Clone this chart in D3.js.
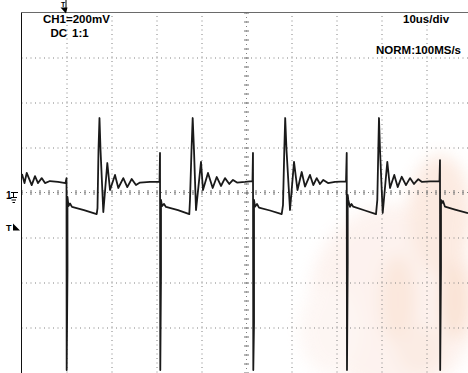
<!DOCTYPE html>
<html>
<head>
<meta charset="utf-8">
<script src="https://cdn.jsdelivr.net/npm/d3@7"></script>
<style>
html,body{margin:0;padding:0;background:#fff;}
svg{display:block;}
text{font-family:"Liberation Sans",Arial,sans-serif;}
</style>
</head>
<body>
<svg id="scope" width="468" height="373"></svg>
<script>
// ---- data (time in µs from left edge, voltage in mV) ----
const traceTime = [0.11,0.67,1.16,2.27,3.0,3.67,4.49,5.22,6.33,8.11,9.78,10.0,10.04,10.22,10.22,10.44,10.78,11.22,13.89,16.71,16.89,17.11,17.33,17.56,18.18,19.07,19.67,20.78,21.51,22.62,23.51,24.49,25.44,26.33,28.56,30.67,
  30.78,30.84,31.0,31.0,31.22,31.67,32.11,34.78,37.29,37.44,37.78,38.04,38.33,38.78,39.89,40.33,41.44,42.49,43.38,44.33,45.22,46.18,47.0,47.89,49.67,51.33,
  51.44,51.51,51.67,51.67,51.89,52.33,52.78,55.22,57.82,58.11,58.4,58.6,58.89,59.67,60.56,61.33,62.27,63.0,64.11,64.84,65.6,66.33,67.07,68.11,69.67,72.11,
  72.27,72.33,72.49,72.49,72.62,73.0,73.33,73.73,76.33,78.78,79.07,79.29,79.44,79.67,80.27,81.29,81.89,82.84,83.6,84.49,85.44,86.33,87.22,88.18,89.0,90.78,92.89,
  93.0,93.04,93.22,93.22,93.38,93.67,94.11,96.33,99.22];
const traceMv = [82,42,87,33,73,42,64,42,51,47,42,64,-789,-344,-20,-60,-49,-64,-78,-96,-69,189,331,189,-87,131,11,78,20,64,24,60,33,44,47,47,
  176,-789,-367,-33,-60,-51,-64,-78,-96,-33,189,331,189,-78,136,11,87,20,69,29,64,38,56,44,47,51,
  176,-789,-580,-33,-63,-51,-67,-80,-96,-56,189,331,189,-78,136,11,91,26,78,33,64,38,56,42,47,49,
  176,-789,-313,-11,-33,-64,-51,-63,-80,-96,-33,189,331,189,-91,136,20,78,24,70,33,64,38,59,47,49,51,
  144,-789,-336,-33,-48,-38,-63,-76,-92];

const timeDivUs = 10;          // 10us/div
const voltDivMv = 200;         // 200mV/div
const hDivs = 10, vDivs = 8;
const labelsTop = ["CH1=200mV", "DC", "1:1"];
const labelsRight = ["10us/div", "NORM:100MS/s"];

// ---- layout ----
const svg = d3.select("#scope");
const leftX = 21.5, topY = 12.5, divPx = 45;
const x = d3.scaleLinear().domain([0, hDivs*timeDivUs]).range([leftX, leftX + hDivs*divPx]);
const y = d3.scaleLinear().domain([-vDivs/2*voltDivMv, vDivs/2*voltDivMv]).range([topY + vDivs*divPx, topY]);

// faint watermark in the background
const defs = svg.append("defs");
defs.append("filter").attr("id","blur").append("feGaussianBlur").attr("stdDeviation", 8);
const wm = svg.append("g").attr("filter","url(#blur)").attr("opacity",0.45);
[[395,300,85,95,"#fbe4dc"],[440,215,32,60,"#f8d2bd"],[330,330,30,45,"#fcece6"],
 [398,300,18,45,"#f7ccb3"],[455,300,16,40,"#f5c4a6"],[420,350,25,25,"#f8d6c4"]].forEach(e=>{
  wm.append("ellipse").attr("cx",e[0]).attr("cy",e[1]).attr("rx",e[2]).attr("ry",e[3]).attr("fill",e[4]);
});

// grid (dotted)
const gridX = d3.axisBottom(x).tickValues(d3.range(1, hDivs).map(i => i*timeDivUs).filter(v => v !== 50))
  .tickSize(-(vDivs*divPx)).tickFormat("");
svg.append("g").attr("transform", `translate(0,${topY + vDivs*divPx})`).call(gridX)
  .call(g => g.select(".domain").remove())
  .selectAll("line").attr("stroke","#808080").attr("stroke-dasharray","1 3.5");

const gridY = d3.axisLeft(y).tickValues(d3.range(-3, 4).map(i => i*voltDivMv).filter(v => v !== 0))
  .tickSize(-(hDivs*divPx)).tickFormat("");
svg.append("g").attr("transform", `translate(${leftX},0)`).call(gridY)
  .call(g => g.select(".domain").remove())
  .selectAll("line").attr("stroke","#808080").attr("stroke-dasharray","1 3.5");

// centre lines (dotted) with minor ticks
svg.append("line").attr("x1", x(50)).attr("x2", x(50)).attr("y1", topY).attr("y2", topY + vDivs*divPx)
  .attr("stroke","#808080").attr("stroke-dasharray","1 3.5");
svg.append("line").attr("x1", leftX).attr("x2", leftX + hDivs*divPx).attr("y1", y(0)).attr("y2", y(0))
  .attr("stroke","#808080").attr("stroke-dasharray","1 3.5");
const minorX = d3.axisBottom(x).tickValues(d3.range(0, hDivs*timeDivUs + 1, timeDivUs/5)).tickSize(5).tickFormat("");
svg.append("g").attr("transform", `translate(0,${y(0) - 2.5})`).call(minorX)
  .call(g => g.select(".domain").remove())
  .selectAll("line").attr("stroke","#707070");
const minorY = d3.axisLeft(y).tickValues(d3.range(-vDivs/2*voltDivMv, vDivs/2*voltDivMv + 1, voltDivMv/5)).tickSize(5).tickFormat("");
svg.append("g").attr("transform", `translate(${x(50) + 2.5},0)`).call(minorY)
  .call(g => g.select(".domain").remove())
  .selectAll("line").attr("stroke","#707070");

// frame
svg.append("line").attr("x1", leftX).attr("x2", 468).attr("y1", topY).attr("y2", topY).attr("stroke","#6a6a6a");
svg.append("line").attr("x1", leftX).attr("x2", leftX).attr("y1", topY).attr("y2", 373).attr("stroke","#111");

// trace
const pts = traceTime.map((t,i) => [t, traceMv[i]]);
const line = d3.line().x(d => x(d[0])).y(d => y(d[1]));
svg.append("path").datum(pts).attr("d", line).attr("fill","none")
  .attr("stroke","#1a1a1a").attr("stroke-width",1.8).attr("stroke-linejoin","round");

// text labels
const tf = {"font-size":"11.5px","font-weight":"bold","fill":"#000"};
function txt(s, px, py){ const t = svg.append("text").attr("x",px).attr("y",py).text(s); Object.entries(tf).forEach(([k,v])=>t.attr(k,v)); return t; }
txt(labelsTop[0], 43, 23);
txt(labelsTop[1], 50.5, 37);
txt(labelsTop[2], 72, 37);
txt(labelsRight[0], 403, 23);
txt(labelsRight[1], 376, 53.5);

// trigger position marker (top)
svg.append("text").attr("x",61).attr("y",6.5).attr("font-size","7px").attr("font-weight","bold").text("T");
svg.append("line").attr("x1",66).attr("x2",66).attr("y1",0).attr("y2",8).attr("stroke","#000");
svg.append("path").attr("d","M60.5,7.5 L67.5,7.5 L66,13.5 Z").attr("fill","#000");

// channel 1 ground marker
svg.append("text").attr("x",6).attr("y",199).attr("font-size","10px").attr("font-weight","bold").text("1");
svg.append("path").attr("d",`M11,${y(0)} H18 M13.5,${y(0)} V197.5 M10.5,197.5 H17 M11.5,200 H16 M12.5,202.5 H15`)
  .attr("stroke","#000").attr("fill","none");

// trigger level marker
svg.append("text").attr("x",6).attr("y",230.5).attr("font-size","9px").attr("font-weight","bold").text("T");
svg.append("path").attr("d","M13,223.5 L13,230.5 L20,230.5 Z").attr("fill","#000");
</script>
</body>
</html>
